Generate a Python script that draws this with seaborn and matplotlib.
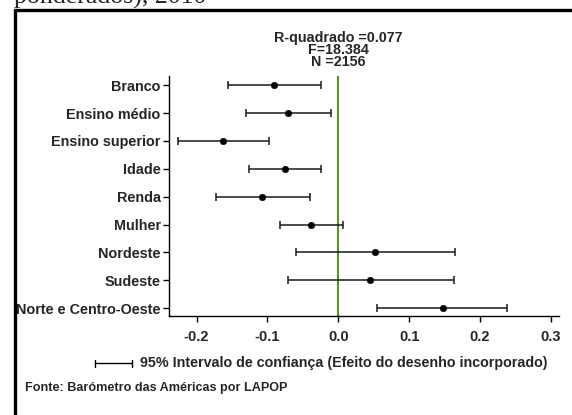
import numpy as np
import pandas as pd
import matplotlib
matplotlib.use("Agg")
import matplotlib.pyplot as plt
from matplotlib.lines import Line2D
import seaborn as sns

# ------------------------------
# Dados (coeficientes e IC 95%)
# ------------------------------
variaveis = ["Branco", "Ensino médio", "Ensino superior", "Idade", "Renda",
             "Mulher", "Nordeste", "Sudeste", "Norte e Centro-Oeste"]
coef = [-0.091, -0.071, -0.162, -0.075, -0.107, -0.038, 0.052, 0.045, 0.147]
ic_inf = [-0.156, -0.130, -0.226, -0.126, -0.173, -0.082, -0.060, -0.071, 0.055]
ic_sup = [-0.025, -0.010, -0.098, -0.024, -0.040, 0.007, 0.165, 0.163, 0.238]
xticks = [-0.2, -0.1, 0.0, 0.1, 0.2, 0.3]
estatisticas = "R-quadrado =0.077\nF=18.384\nN =2156"

df = pd.DataFrame({"var": variaveis, "coef": coef, "lo": ic_inf, "hi": ic_sup})

sns.set_style("white")
plt.rcParams["font.family"] = ["Liberation Sans", "DejaVu Sans"]

W, H = 572, 415
fig = plt.figure(figsize=(W / 100, H / 100), dpi=100)
ax = fig.add_axes([169 / W, 1 - 316 / H, (559 - 169) / W, (316 - 76) / H])

# linha de referencia em zero
ax.axvline(0, color="#5f8f2c", lw=1.5, zorder=1)

pos = np.arange(len(df))
ax.errorbar(df["coef"], pos,
            xerr=[df["coef"] - df["lo"], df["hi"] - df["coef"]],
            fmt="none", ecolor="#1a1a1a", elinewidth=1.1, capsize=3.2,
            capthick=1.1, zorder=2)
sns.scatterplot(data=df, x="coef", y="var", ax=ax, color="black", s=22,
                edgecolor="black", zorder=3, legend=False)

ax.set_xlim(-0.2388, 0.3113)
ax.set_ylim(8.28, -0.33)
ax.set_xticks(xticks)
ax.set_xticklabels([f"{t:.1f}" for t in xticks], fontsize=10.5, fontweight="bold")
ax.set_yticks(pos)
ax.set_yticklabels(variaveis, fontsize=10.4, fontweight="bold")
ax.set_xlabel("")
ax.set_ylabel("")
for s in ["top", "right"]:
    ax.spines[s].set_visible(False)
for s in ["left", "bottom"]:
    ax.spines[s].set_linewidth(1.0)
    ax.spines[s].set_color("black")
ax.tick_params(axis="both", which="both", direction="out", length=4,
               width=1.0, color="black", pad=2, left=True, bottom=True)
ax.tick_params(axis="x", pad=6)

# estatisticas do modelo
fig.text(338 / W, 1 - 31 / H, estatisticas, ha="center", va="top",
         fontsize=10.3, fontweight="bold", linespacing=0.8)

# legenda do intervalo
ly = 1 - 363 / H
fig.add_artist(Line2D([95 / W, 132 / W], [ly, ly], color="black", lw=1.0))
for xc in (95, 132):
    fig.add_artist(Line2D([xc / W, xc / W], [ly - 3.5 / H, ly + 3.5 / H],
                          color="black", lw=1.0))
fig.text(140 / W, ly, "95% Intervalo de confiança (Efeito do desenho incorporado)",
         ha="left", va="center", fontsize=10.3, fontweight="bold")

fig.text(25 / W, 1 - 388 / H, "Fonte: Barómetro das Américas por LAPOP",
         ha="left", va="center", fontsize=9.1, fontweight="bold")

# moldura e titulo cortado
fig.add_artist(Line2D([15 / W, 1.0], [1 - 10.5 / H, 1 - 10.5 / H], color="black", lw=2.4))
fig.add_artist(Line2D([15 / W, 15 / W], [1 - 10.5 / H, 0], color="black", lw=2.4))
fig.text(14 / W, 1 - 4 / H, "ponderados), 2010", ha="left", va="baseline",
         fontsize=18.6, family=["Liberation Serif", "DejaVu Serif"])

fig.savefig("out.png", dpi=100)
